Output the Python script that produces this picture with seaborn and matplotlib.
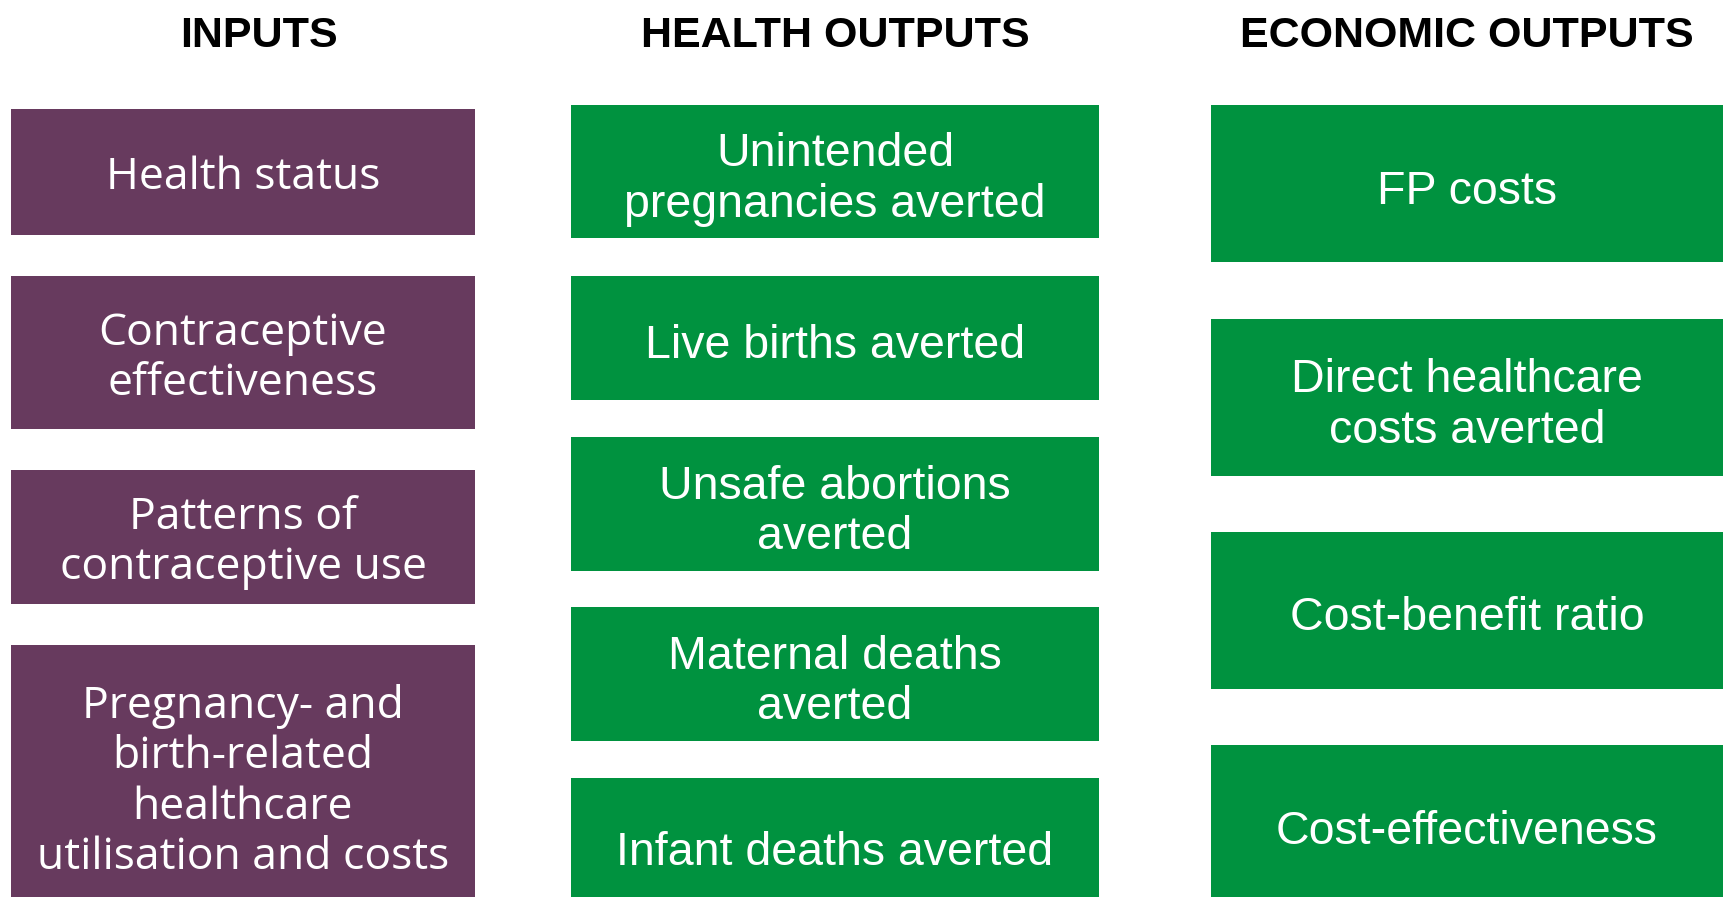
import matplotlib
matplotlib.use("Agg")
import matplotlib.pyplot as plt
import seaborn as sns

# --- content -------------------------------------------------------------
headers = ["INPUTS", "HEALTH OUTPUTS", "ECONOMIC OUTPUTS"]

inputs = [
    "Health status",
    "Contraceptive\neffectiveness",
    "Patterns of\ncontraceptive use",
    "Pregnancy- and\nbirth-related\nhealthcare\nutilisation and costs",
]
health_outputs = [
    "Unintended\npregnancies averted",
    "Live births averted",
    "Unsafe abortions\naverted",
    "Maternal deaths\naverted",
    "Infant deaths averted",
]
economic_outputs = [
    "FP costs",
    "Direct healthcare\ncosts averted",
    "Cost-benefit ratio",
    "Cost-effectiveness",
]

# --- layout (pixel units of the 1723x897 canvas) ---------------------------
W, H = 1723, 897
col_x = [(11, 475), (571, 1099), (1211, 1760)]
header_x = [259, 835, 1467]
header_base = 47
box_y = [
    [(109, 235), (276, 429), (470, 604), (645, 907)],
    [(105, 238), (276, 400), (437, 571), (607, 741), (778, 912)],
    [(105, 262), (319, 476), (532, 689), (745, 902)],
]
colors = ["#673A5E", "#00923F", "#00923F"]

sns.set_theme(style="white")
plt.rcParams["font.family"] = ["Liberation Sans", "DejaVu Sans"]

fig = plt.figure(figsize=(W / 100, H / 100), dpi=100)
ax = fig.add_axes([0, 0, 1, 1])
ax.set_xlim(0, W)
ax.set_ylim(H, 0)
ax.axis("off")

text_styles = [
    dict(family=["Open Sans", "DejaVu Sans"], fontsize=32, linespacing=1.17),
    dict(family=["Liberation Sans", "DejaVu Sans"], fontsize=33.5, linespacing=1.2),
    dict(family=["Liberation Sans", "DejaVu Sans"], fontsize=33.5, linespacing=1.2),
]
text_dy = [6, 8, 8]

for i, labels in enumerate([inputs, health_outputs, economic_outputs]):
    x0, x1 = col_x[i]
    tops = [b[0] for b in box_y[i]]
    heights = [b[1] - b[0] for b in box_y[i]]
    centers = [t + h / 2 for t, h in zip(tops, heights)]
    ax.barh(centers, [x1 - x0] * len(labels), height=heights, left=x0,
            color=colors[i], linewidth=0)
    tx = (x0 + min(x1, W)) / 2 if i < 2 else header_x[i]
    for c, lab in zip(centers, labels):
        ax.text(tx, c + text_dy[i], lab, ha="center", va="center",
                color="white", **text_styles[i])

for hx, label in zip(header_x, headers):
    ax.text(hx, header_base, label, ha="center", va="baseline", color="black",
            family=["Liberation Sans", "DejaVu Sans"],
            fontsize=31, fontweight="bold")

fig.savefig("out.png", dpi=100)
plt.close(fig)
